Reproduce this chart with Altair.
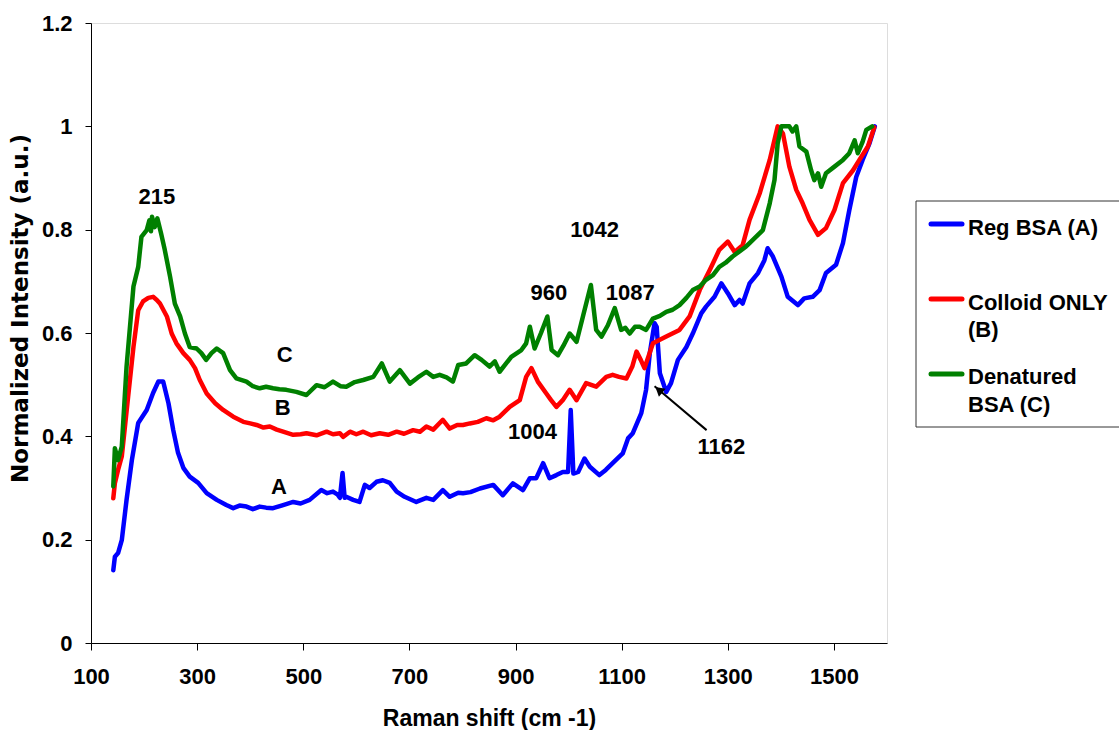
import altair as alt
import pandas as pd

# Raman spectra: normalized intensity against Raman shift (cm -1)
shift_a = [142, 145, 151, 158, 167, 177, 189, 205, 217, 227, 236, 246, 255, 264, 274, 286,
           302, 318, 337, 355, 368, 380, 393, 405, 418, 430, 443, 462, 481, 495, 512, 534,
           545, 556, 565, 569, 574, 578, 581, 594, 606, 616, 625, 638, 650, 663, 676, 691,
           713, 732, 745, 763, 776, 792, 801, 815, 833, 858, 876, 895, 914, 927, 939, 952,
           964, 977, 989, 999, 1004, 1009, 1018, 1030, 1040, 1058, 1070, 1083, 1102, 1112,
           1121, 1137, 1146, 1153, 1162, 1166, 1172, 1184, 1193, 1206, 1222, 1234, 1250,
           1259, 1275, 1288, 1300, 1313, 1322, 1328, 1341, 1357, 1369, 1375, 1385, 1401,
           1413, 1432, 1444, 1460, 1473, 1485, 1504, 1517, 1529, 1542, 1554, 1567, 1577]
int_a = [0.141, 0.167, 0.174, 0.199, 0.277, 0.354, 0.426, 0.451, 0.484, 0.506, 0.506, 0.464,
         0.412, 0.368, 0.339, 0.322, 0.310, 0.290, 0.277, 0.267, 0.261, 0.266, 0.264, 0.259,
         0.264, 0.262, 0.261, 0.267, 0.273, 0.270, 0.277, 0.296, 0.290, 0.293, 0.287, 0.281,
         0.329, 0.281, 0.283, 0.277, 0.273, 0.306, 0.300, 0.312, 0.315, 0.310, 0.293, 0.283,
         0.273, 0.281, 0.277, 0.296, 0.283, 0.291, 0.290, 0.292, 0.299, 0.306, 0.286, 0.309,
         0.296, 0.319, 0.319, 0.348, 0.319, 0.325, 0.331, 0.331, 0.451, 0.328, 0.331, 0.357,
         0.341, 0.325, 0.335, 0.348, 0.367, 0.396, 0.406, 0.445, 0.490, 0.561, 0.619, 0.612,
         0.522, 0.486, 0.503, 0.548, 0.573, 0.599, 0.638, 0.651, 0.670, 0.696, 0.677, 0.654,
         0.664, 0.657, 0.696, 0.716, 0.741, 0.764, 0.748, 0.709, 0.670, 0.654, 0.667, 0.670,
         0.683, 0.716, 0.732, 0.774, 0.838, 0.902, 0.935, 0.967, 1.000]

shift_b = [142, 145, 151, 158, 170, 180, 189, 198, 208, 217, 224, 230, 243, 252, 261, 274,
           286, 296, 305, 318, 334, 349, 368, 387, 400, 412, 425, 437, 450, 462, 481, 495,
           506, 525, 544, 556, 569, 575, 588, 600, 613, 628, 644, 660, 676, 690, 707, 720,
           732, 745, 763, 776, 790, 801, 814, 829, 845, 858, 870, 889, 908, 920, 930, 942,
           958, 967, 977, 989, 1002, 1015, 1033, 1052, 1071, 1083, 1095, 1109, 1120, 1128,
           1136, 1143, 1159, 1184, 1209, 1228, 1247, 1266, 1284, 1300, 1313, 1328, 1341,
           1360, 1379, 1394, 1404, 1416, 1429, 1441, 1454, 1470, 1485, 1501, 1517, 1536,
           1548, 1564, 1576]
int_b = [0.280, 0.309, 0.335, 0.361, 0.477, 0.573, 0.644, 0.661, 0.668, 0.670, 0.664, 0.657,
         0.632, 0.599, 0.580, 0.561, 0.548, 0.532, 0.509, 0.483, 0.464, 0.451, 0.438, 0.428,
         0.425, 0.422, 0.417, 0.419, 0.413, 0.409, 0.403, 0.404, 0.406, 0.402, 0.409, 0.404,
         0.406, 0.399, 0.409, 0.404, 0.409, 0.402, 0.406, 0.403, 0.409, 0.405, 0.412, 0.409,
         0.419, 0.413, 0.432, 0.415, 0.422, 0.422, 0.425, 0.428, 0.435, 0.431, 0.438, 0.457,
         0.470, 0.515, 0.532, 0.506, 0.483, 0.470, 0.457, 0.470, 0.490, 0.470, 0.503, 0.496,
         0.515, 0.519, 0.515, 0.512, 0.535, 0.564, 0.548, 0.532, 0.580, 0.593, 0.606, 0.632,
         0.683, 0.722, 0.761, 0.777, 0.757, 0.770, 0.819, 0.870, 0.935, 1.000, 0.986, 0.922,
         0.877, 0.851, 0.819, 0.790, 0.803, 0.838, 0.890, 0.915, 0.935, 0.961, 0.998]

shift_c = [142, 145, 148, 151, 158, 167, 180, 189, 195, 205, 210, 213, 215, 220, 225, 232,
           239, 249, 258, 268, 277, 286, 299, 308, 317, 327, 337, 349, 362, 374, 393, 405,
           418, 430, 443, 455, 468, 487, 506, 525, 540, 556, 570, 581, 597, 613, 632, 648,
           663, 682, 701, 716, 732, 745, 757, 770, 782, 792, 807, 823, 836, 851, 861, 870,
           892, 911, 920, 927, 936, 948, 960, 968, 980, 990, 1002, 1015, 1027, 1042, 1052,
           1062, 1074, 1087, 1099, 1107, 1115, 1125, 1134, 1146, 1159, 1172, 1184, 1196,
           1209, 1222, 1234, 1247, 1259, 1272, 1284, 1296, 1309, 1322, 1334, 1341, 1353,
           1366, 1379, 1388, 1394, 1401, 1416, 1422, 1429, 1435, 1448, 1457, 1463, 1470,
           1476, 1485, 1501, 1517, 1529, 1539, 1545, 1554, 1561, 1572]
int_c = [0.303, 0.377, 0.365, 0.354, 0.380, 0.535, 0.690, 0.728, 0.786, 0.799, 0.818, 0.797,
         0.825, 0.805, 0.822, 0.793, 0.761, 0.709, 0.657, 0.632, 0.599, 0.573, 0.570, 0.561,
         0.548, 0.561, 0.570, 0.561, 0.528, 0.512, 0.506, 0.497, 0.493, 0.496, 0.493, 0.491,
         0.490, 0.486, 0.480, 0.499, 0.495, 0.506, 0.497, 0.496, 0.505, 0.509, 0.515, 0.541,
         0.506, 0.528, 0.502, 0.514, 0.525, 0.515, 0.519, 0.514, 0.506, 0.538, 0.541, 0.557,
         0.548, 0.535, 0.545, 0.525, 0.554, 0.567, 0.580, 0.612, 0.570, 0.600, 0.632, 0.567,
         0.557, 0.575, 0.599, 0.583, 0.632, 0.693, 0.606, 0.593, 0.615, 0.648, 0.606, 0.610,
         0.599, 0.612, 0.612, 0.606, 0.628, 0.633, 0.641, 0.645, 0.654, 0.668, 0.683, 0.690,
         0.703, 0.712, 0.728, 0.736, 0.748, 0.758, 0.767, 0.774, 0.786, 0.799, 0.851, 0.896,
         0.967, 1.000, 1.000, 0.990, 1.000, 0.961, 0.951, 0.915, 0.896, 0.909, 0.883, 0.909,
         0.922, 0.935, 0.948, 0.973, 0.948, 0.970, 0.993, 1.000]

series_names = ["Reg BSA (A)", "Colloid ONLY (B)", "Denatured BSA (C)"]
series_colors = ["#0000FF", "#FF0000", "#008000"]
legend_lines = [["Reg BSA (A)"], ["Colloid ONLY", "(B)"], ["Denatured", "BSA (C)"]]

x_ticks = [100, 300, 500, 700, 900, 1100, 1300, 1500]
y_ticks = [0, 0.2, 0.4, 0.6, 0.8, 1.0, 1.2]

# peak labels and curve letters, placed in data units
note_text = ["215", "C", "B", "A", "960", "1042", "1087", "1004", "1162"]
note_shift = [224, 465, 461, 454, 963, 1049, 1116, 932, 1288]
note_int = [0.863, 0.557, 0.455, 0.302, 0.677, 0.799, 0.677, 0.408, 0.380]

# arrow pointing at the 1162 band of curve A
arrow_tail = (1260, 0.412)
arrow_tip = (1162, 0.497)

W, H = 796, 620
FONT = "Liberation Sans"

x_enc = alt.X(
    "shift:Q",
    scale=alt.Scale(domain=[100, 1600], nice=False, zero=False),
    axis=alt.Axis(
        values=x_ticks, format="d", title="Raman shift (cm -1)", grid=False,
        tickSize=7, tickColor="black", domainColor="black",
        labelFont=FONT, labelFontSize=22, labelFontWeight="bold", labelColor="black",
        labelPadding=16, labelFlush=False, labelOverlap=False,
        titleFont=FONT, titleFontSize=23, titleFontWeight="bold", titleColor="black",
        titleY=75, titleBaseline="middle",
    ),
)
y_enc = alt.Y(
    "intensity:Q",
    scale=alt.Scale(domain=[0, 1.2], nice=False),
    axis=alt.Axis(
        values=y_ticks, format="~g", title="Normalized Intensity (a.u.)", grid=False,
        tickSize=6, tickColor="black", domainColor="black",
        labelFont=FONT, labelFontSize=22, labelFontWeight="bold", labelColor="black",
        labelPadding=13, labelFlush=False, labelOverlap=False,
        titleFont="DejaVu Sans", titleFontSize=23, titleFontWeight="bold", titleColor="black",
        titleX=-71, titleY=285, titleAngle=270, titleBaseline="middle",
    ),
)

layers = []
for xs, ys, name, color in zip([shift_a, shift_b, shift_c], [int_a, int_b, int_c],
                               series_names, series_colors):
    df = pd.DataFrame({"shift": xs, "intensity": ys, "series": name})
    layers.append(
        alt.Chart(df).mark_line(color=color, strokeWidth=4.5, strokeJoin="round",
                                strokeCap="round")
        .encode(x=x_enc, y=y_enc)
    )

notes = pd.DataFrame({"shift": note_shift, "intensity": note_int, "label": note_text})
layers.append(
    alt.Chart(notes).mark_text(font=FONT, fontSize=22, fontWeight="bold", color="black",
                               align="center", baseline="middle")
    .encode(x=x_enc, y=y_enc, text="label:N")
)

arrow = pd.DataFrame({"shift": [arrow_tail[0]], "intensity": [arrow_tail[1]],
                      "shift2": [arrow_tip[0]], "intensity2": [arrow_tip[1]]})
layers.append(
    alt.Chart(arrow).mark_rule(color="black", strokeWidth=2)
    .encode(x=x_enc, y=y_enc, x2="shift2:Q", y2="intensity2:Q")
)
head = pd.DataFrame({"shift": [arrow_tip[0] + 8], "intensity": [arrow_tip[1] - 0.007]})
layers.append(
    alt.Chart(head).mark_point(shape="triangle-up", angle=310, filled=True, size=110,
                               color="black", opacity=1)
    .encode(x=x_enc, y=y_enc)
)

# legend box at the right of the plot
one = alt.Data(values=[{}])
layers.append(
    alt.Chart(one).mark_rect(fillOpacity=0, stroke="#333333", strokeWidth=1)
    .encode(x=alt.value(825), x2=alt.value(1060), y=alt.value(178), y2=alt.value(404))
)
sym_y = [201, 276, 351]
text_y = [[205], [280, 307], [354, 382]]
for color, sy, lines, ty in zip(series_colors, sym_y, legend_lines, text_y):
    layers.append(
        alt.Chart(one).mark_rule(color=color, strokeWidth=5, strokeCap="round")
        .encode(x=alt.value(840), x2=alt.value(871), y=alt.value(sy))
    )
    for line, yy in zip(lines, ty):
        layers.append(
            alt.Chart(one).mark_text(text=line, font=FONT, fontSize=22, fontWeight="bold",
                                     color="black", align="left", baseline="middle")
            .encode(x=alt.value(877), y=alt.value(yy))
        )

chart = (
    alt.layer(*layers)
    .properties(width=W, height=H,
                padding={"left": 91, "top": 23, "right": 232, "bottom": 87},
                autosize=alt.AutoSizeParams(type="none"))
    .configure_view(stroke="#808080", strokeWidth=1)
    .configure(background="white")
)

chart.save("out.html", embed_options={"renderer": "svg", "actions": False})
